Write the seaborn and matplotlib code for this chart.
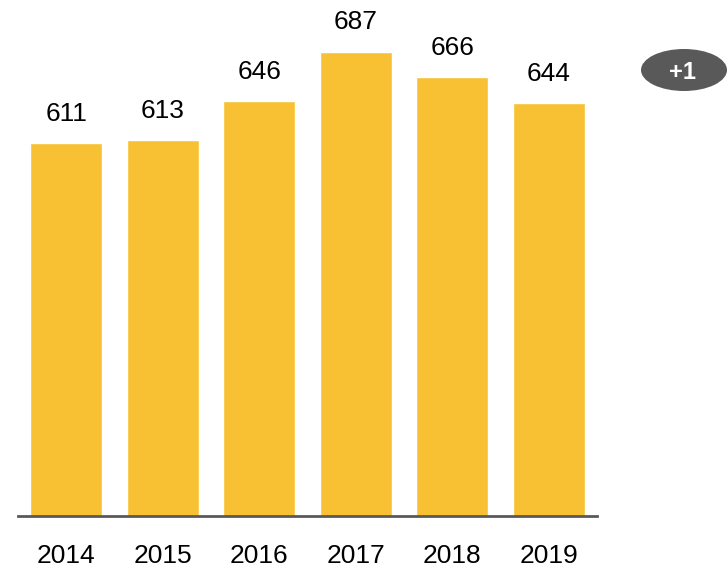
import matplotlib
matplotlib.use("Agg")
import matplotlib.pyplot as plt
from matplotlib.patches import Ellipse
import seaborn as sns
import pandas as pd

years = ["2014", "2015", "2016", "2017", "2018", "2019"]
values = [611, 613, 646, 687, 666, 644]
badge_text = "+1"

sns.set_style("white")
plt.rcParams["font.family"] = ["Liberation Sans", "DejaVu Sans"]

W, H = 727, 568
fig = plt.figure(figsize=(W / 100, H / 100), dpi=100)
ax = fig.add_axes([18 / W, (H - 516) / H, 579 / W, 516 / H])

df = pd.DataFrame({"year": years, "value": values})
sns.barplot(data=df, x="year", y="value", color="#F7C133", saturation=1,
            width=0.75, ax=ax)

ax.set_ylim(300, 730)
ax.set_xlim(-0.5, 5.5)
for s in ["top", "right", "left"]:
    ax.spines[s].set_visible(False)
ax.spines["bottom"].set_color("#595959")
ax.spines["bottom"].set_linewidth(2)
ax.set_yticks([])
ax.set_xlabel("")
ax.set_ylabel("")
ax.tick_params(axis="x", length=0, pad=20, labelsize=19, colors="black")

for i, v in enumerate(values):
    ax.annotate(str(v), (i, v), xytext=(0, 21), textcoords="offset points",
                ha="center", va="center", fontsize=19, color="black")

ell = Ellipse((684 / W, 1 - 70 / H), 86 / W, 42 / H, transform=fig.transFigure,
              facecolor="#595959", edgecolor="none")
fig.patches.append(ell)
fig.text(682 / W, 1 - 72 / H, badge_text, ha="center", va="center",
         fontsize=17, fontweight="bold", color="white")

fig.savefig("out.png", dpi=100)
